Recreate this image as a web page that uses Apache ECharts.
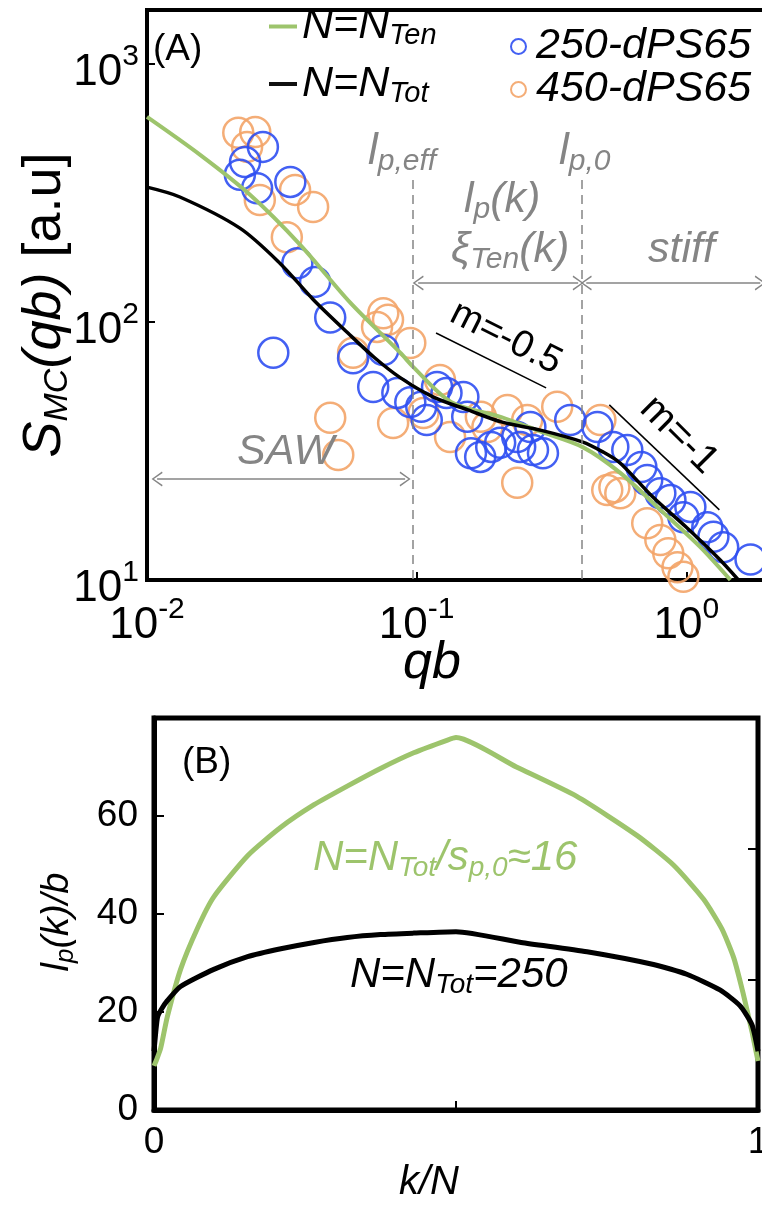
<!DOCTYPE html>
<html>
<head>
<meta charset="utf-8">
<script src="https://cdn.jsdelivr.net/npm/echarts@6/dist/echarts.min.js"></script>
<style>
html, body { margin: 0; padding: 0; background: #fff; }
#chart { width: 762px; height: 1226px; }
</style>
</head>
<body>
<div id="chart"></div>
<script>
// ---- panel A: S_MC(qb) ----
var qbBlue = [0.0269, 0.0231, 0.0221, 0.0256, 0.0340, 0.0361, 0.0420, 0.0478, 0.0294, 0.0581,
  0.0690, 0.0752, 0.0848, 0.0947, 0.104, 0.109, 0.119, 0.129, 0.149, 0.154, 0.159, 0.172, 0.189,
  0.204, 0.236, 0.242, 0.264, 0.270, 0.294, 0.371, 0.468, 0.536, 0.604, 0.681, 0.716, 0.801,
  0.873, 0.975, 1.035, 1.196, 1.26, 1.37, 1.73]
var sBlue = [477, 417, 372, 330, 349, 169, 143, 104, 75.9, 72.4,
  56, 77.8, 53.1, 48.9, 46.9, 41.7, 56, 53, 51.2, 42.9, 31, 30, 32.8,
  34, 35.8, 32.8, 39.2, 31.9, 31, 41.7, 39.2, 32.8, 31.9, 27.4, 24.4, 21.7,
  20.4, 17.5, 19.2, 16, 14.7, 13.4, 12]

var qbOrange = [0.0218, 0.0252, 0.0235, 0.0262, 0.0354, 0.0413, 0.0330, 0.0713, 0.0752, 0.0783,
  0.0947, 0.0581, 0.0478, 0.0512, 0.0818, 0.106, 0.122, 0.133, 0.173, 0.183, 0.217, 0.236,
  0.257, 0.332, 0.480, 0.509, 0.541, 0.569, 0.716, 0.801, 0.857, 0.927, 0.975]
var sOrange = [541, 545, 477, 297, 325, 279, 213, 95.7, 108, 102,
  82.9, 75.9, 42.5, 30.5, 40.6, 44.4, 59.6, 35.8, 42.9, 39.2, 45.6, 23.8,
  41.7, 46.9, 41.7, 22.3, 22.9, 21.7, 16.6, 14.3, 12.7, 11.2, 10.3]

var qbTen = [0.01, 0.01574, 0.0241, 0.0370, 0.0566, 0.0869, 0.097, 0.134, 0.206, 0.29, 0.411, 0.569, 0.801, 1.127, 1.456]
var sTen = [623, 444, 311, 199, 119, 76, 67, 49, 42.8, 37.5, 32.8, 26, 18.7, 13.4, 10]

var qbTot = [0.01, 0.01324, 0.0221, 0.0311, 0.0414, 0.0556, 0.0695, 0.0866, 0.116, 0.155, 0.206, 0.29, 0.411, 0.492, 0.568, 0.75, 1.0, 1.33, 1.56]
var sTot = [333, 305, 231, 169, 122, 90.6, 73, 61, 51, 45.6, 41, 38, 34.3, 31.3, 28.4, 21, 16, 12, 10]

// regime boundaries and guide lines (qb, S)
var lpEffQb = 0.097
var lp0Qb = 0.411
var slopeHalf = [[0.118, 90.6], [0.302, 55.5]]
var slopeOne = [[0.518, 47.7], [1.326, 18.7]]
var sawArrow = [[0.0109, 24.6], [0.0906, 24.6]]
var midArrow = [[0.1013, 141.6], [0.397, 141.6]]
var stiffArrow = [[0.4256, 141.6], [1.88, 141.6]]

// ---- panel B: l_p(k)/b ----
var kTen = [0, 0.005, 0.011, 0.022, 0.044, 0.072, 0.099, 0.155, 0.21, 0.265, 0.32, 0.375, 0.43, 0.486, 0.5,
  0.6, 0.7, 0.8, 0.86, 0.91, 0.94, 0.96, 0.975, 0.99, 1.0]
var lpTen = [9, 10.5, 12.6, 19, 28.7, 37.1, 43.5, 51.9, 57.7, 62.3, 66.1, 69.7, 72.9, 75.5, 76,
  70, 64, 56, 50, 43, 37, 31, 24, 16, 10]

var kTot = [0, 0.003, 0.006, 0.012, 0.022, 0.044, 0.099, 0.155, 0.21, 0.265, 0.32, 0.375, 0.43, 0.5,
  0.608, 0.717, 0.827, 0.882, 0.937, 0.97, 0.99, 1.0]
var lpTot = [12, 16, 19, 20.5, 22.3, 25.2, 28.7, 31.3, 32.9, 34.2, 35.2, 35.8, 36.1, 36.4,
  34.2, 32.3, 29.7, 27.7, 24.5, 21.3, 17.4, 12]

var F = "'Liberation Sans', Arial, Helvetica, sans-serif"
var GRAY = '#858585'
var GREEN = '#9dc46c'
var BLUE = '#2f4ff2'
var ORANGE = '#f3a468'
var ARROW = 'path://M0,10 L5,0 L10,10 L9,10.6 L5,2.2 L1,10.6 Z'

function pairs(xs, ys) {
  return xs.map(function (x, i) { return [x, ys[i]] })
}

function powLabel(v) {
  var e = Math.round(Math.log(v) / Math.LN10)
  return '{b|10}{e|' + e + '}'
}
var powRich = {
  b: { fontSize: 44, fontFamily: F, color: '#000', lineHeight: 62 },
  e: { fontSize: 30, fontFamily: F, color: '#000', lineHeight: 30, verticalAlign: 'top' }
}

function arrowLine(seg) {
  return [
    { coord: seg[0], symbol: ARROW, symbolSize: [15, 11] },
    { coord: seg[1], symbol: ARROW, symbolSize: [15, 11] }
  ]
}

function txt(x, y, text, rich, opts) {
  opts = opts || {}
  return {
    type: 'text',
    x: x,
    y: y,
    rotation: opts.rotation || 0,
    z: 100,
    style: {
      text: text,
      rich: rich,
      fontFamily: F,
      fontSize: opts.size || 40,
      fontStyle: opts.italic ? 'italic' : 'normal',
      fill: opts.color || '#000',
      align: opts.align || 'left',
      verticalAlign: 'middle',
      textAlign: opts.align || 'left',
      textVerticalAlign: 'middle'
    }
  }
}

function tokens(color, main, sub, italic) {
  var st = italic === false ? 'normal' : 'italic'
  return {
    m: { fontSize: main, lineHeight: main + 6, fontStyle: st, fontFamily: F, fill: color },
    n: { fontSize: main, lineHeight: main + 6, fontStyle: 'normal', fontFamily: F, fill: color },
    s: { fontSize: sub, lineHeight: sub, fontStyle: st, fontFamily: F, fill: color, verticalAlign: 'bottom' }
  }
}

var legendRich = {
  a: { fontSize: 43, fontStyle: 'italic', fontFamily: F, color: '#000', lineHeight: 48 },
  b: { fontSize: 29, fontStyle: 'italic', fontFamily: F, color: '#000', lineHeight: 29, verticalAlign: 'bottom' }
}

var chart = echarts.init(document.getElementById('chart'))

var option = {
  animation: false,
  backgroundColor: '#fff',
  textStyle: { fontFamily: F },
  grid: [
    { left: 147, top: 10, right: -194, bottom: 646, show: true, borderColor: '#000', borderWidth: 4,
      containLabel: false, outerBoundsMode: 'none' },
    { left: 154, top: 718, right: 4, bottom: 116, show: true, borderColor: '#000', borderWidth: 5,
      containLabel: false, outerBoundsMode: 'none' }
  ],
  legend: [
    {
      data: ['N=N_Ten', 'N=N_Tot'],
      left: 264, top: 0, orient: 'vertical',
      icon: 'rect', itemWidth: 28, itemHeight: 4, itemGap: 12,
      selectedMode: false,
      formatter: function (name) {
        return '{a|N=N}{b|' + name.split('_')[1] + '}'
      },
      textStyle: { rich: legendRich }
    },
    {
      data: ['250-dPS65', '450-dPS65'],
      left: 505, top: 20, orient: 'vertical',
      icon: 'circle', itemWidth: 15, itemHeight: 15, itemGap: 0,
      selectedMode: false,
      textStyle: { fontSize: 43, fontStyle: 'italic', fontFamily: F, color: '#000', lineHeight: 42, padding: [0, 0, 0, 5] }
    }
  ],
  xAxis: [
    {
      type: 'log', gridIndex: 0, min: 0.01, max: 10, logBase: 10,
      axisLine: { lineStyle: { color: '#000', width: 4 } },
      axisTick: { inside: true, length: 8, lineStyle: { color: '#000', width: 2 } },
      splitLine: { show: false },
      axisLabel: { margin: 15, formatter: powLabel, rich: powRich, showMaxLabel: false }
    },
    {
      type: 'value', gridIndex: 1, min: 0, max: 1, interval: 0.5,
      axisLine: { lineStyle: { color: '#000', width: 5 } },
      axisTick: { inside: true, length: 9, lineStyle: { color: '#000', width: 2 } },
      splitLine: { show: false },
      axisLabel: {
        margin: 14, fontSize: 37, color: '#000', fontFamily: F,
        formatter: function (v) { return (v === 0 || v === 1) ? String(v) : '' }
      }
    }
  ],
  yAxis: [
    {
      type: 'log', gridIndex: 0, min: 10, max: 1618, logBase: 10,
      axisLine: { lineStyle: { color: '#000', width: 4 } },
      axisTick: { inside: true, length: 8, lineStyle: { color: '#000', width: 2 } },
      splitLine: { show: false },
      axisLabel: { margin: 8, formatter: powLabel, rich: powRich, showMaxLabel: false, padding: [18, 0, 0, 0] }
    },
    {
      type: 'value', gridIndex: 1, min: 0, max: 80, interval: 20,
      axisLine: { lineStyle: { color: '#000', width: 5 } },
      axisTick: { inside: true, length: 10, lineStyle: { color: '#000', width: 2 } },
      splitLine: { show: false },
      axisLabel: { margin: 16, fontSize: 37, color: '#000', fontFamily: F, showMaxLabel: false }
    },
    {
      type: 'value', gridIndex: 1, position: 'right', min: 0, max: 3, interval: 1,
      axisLine: { show: false },
      axisTick: { inside: true, length: 10, lineStyle: { color: '#000', width: 2 } },
      splitLine: { show: false },
      axisLabel: { show: false }
    }
  ],
  series: [
    {
      name: '450-dPS65', type: 'scatter', xAxisIndex: 0, yAxisIndex: 0,
      data: pairs(qbOrange, sOrange), symbol: 'circle', symbolSize: 30, clip: false,
      itemStyle: { color: 'transparent', borderColor: ORANGE, borderWidth: 2.5, opacity: 0.9 }
    },
    {
      name: '250-dPS65', type: 'scatter', xAxisIndex: 0, yAxisIndex: 0,
      data: pairs(qbBlue, sBlue), symbol: 'circle', symbolSize: 30, clip: false,
      itemStyle: { color: 'transparent', borderColor: BLUE, borderWidth: 2.5, opacity: 0.9 }
    },
    {
      name: 'N=N_Ten', type: 'line', xAxisIndex: 0, yAxisIndex: 0,
      data: pairs(qbTen, sTen), showSymbol: false, symbol: 'none', smooth: 0.3,
      lineStyle: { color: GREEN, width: 4 }, itemStyle: { color: GREEN }
    },
    {
      name: 'N=N_Tot', type: 'line', xAxisIndex: 0, yAxisIndex: 0,
      data: pairs(qbTot, sTot), showSymbol: false, symbol: 'none', smooth: 0.3,
      lineStyle: { color: '#000', width: 3.5 }, itemStyle: { color: '#111' }
    },
    {
      name: 'guides', type: 'line', xAxisIndex: 0, yAxisIndex: 0, data: [],
      markLine: {
        silent: true, animation: false, symbol: ['none', 'none'],
        label: { show: false },
        lineStyle: { color: GRAY, width: 1.5, type: 'solid' },
        emphasis: { disabled: true },
        data: [
          [{ coord: [lpEffQb, 355], lineStyle: { type: [9, 6], width: 1.5, color: GRAY } }, { coord: [lpEffQb, 10] }],
          [{ coord: [lp0Qb, 355], lineStyle: { type: [9, 6], width: 1.5, color: GRAY } }, { coord: [lp0Qb, 10] }],
          arrowLine(sawArrow),
          arrowLine(midArrow),
          arrowLine(stiffArrow),
          [{ coord: slopeHalf[0], lineStyle: { color: '#000', width: 1.5 } }, { coord: slopeHalf[1] }],
          [{ coord: slopeOne[0], lineStyle: { color: '#000', width: 1.5 } }, { coord: slopeOne[1] }]
        ]
      }
    },
    {
      name: 'lpTen', type: 'line', xAxisIndex: 1, yAxisIndex: 1,
      data: pairs(kTen, lpTen), showSymbol: false, symbol: 'none', smooth: 0.2,
      lineStyle: { color: GREEN, width: 5 }
    },
    {
      name: 'lpTot', type: 'line', xAxisIndex: 1, yAxisIndex: 1,
      data: pairs(kTot, lpTot), showSymbol: false, symbol: 'none', smooth: 0.2,
      lineStyle: { color: '#000', width: 5 }
    }
  ],
  graphic: [
    txt(153, 50, '(A)', null, { size: 37 }),
    txt(368, 152, '{m|l}{s|p,eff}', tokens(GRAY, 44, 30), {}),
    txt(559, 152, '{m|l}{s|p,0}', tokens(GRAY, 44, 30), {}),
    txt(464, 200, '{m|l}{s|p}{m|(k)}', tokens(GRAY, 43, 30), {}),
    txt(451, 250, '{m|ξ}{s|Ten}{m|(k)}', tokens(GRAY, 43, 30), {}),
    txt(648, 250, 'stiff', null, { size: 43, italic: true, color: GRAY }),
    txt(237, 452, 'SAW', null, { size: 43, italic: true, color: GRAY }),
    txt(506, 338, 'm=-0.5', null, { size: 38, align: 'center', rotation: -0.47 }),
    txt(679, 435, 'm=-1', null, { size: 40, align: 'center', rotation: -0.785 }),
    txt(45, 305, '{m|S}{s|MC}{m|(qb)}{n| [a.u]}', tokens('#000', 54, 34), { align: 'center', rotation: Math.PI / 2 }),
    txt(432, 664, 'qb', null, { size: 52, italic: true, align: 'center' }),
    txt(182, 763, '(B)', null, { size: 37 }),
    txt(313, 858, '{m|N=N}{s|Tot}{m|/s}{s|p,0}{m|≈16}', tokens(GREEN, 42, 28), {}),
    txt(350, 975, '{m|N=N}{s|Tot}{m|=250}', tokens('#000', 42, 28), {}),
    txt(57, 922, '{m|l}{s|p}{m|(k)/b}', tokens('#000', 38, 26), { align: 'center', rotation: Math.PI / 2 }),
    txt(429, 1183, 'k/N', null, { size: 40, italic: true, align: 'center' })
  ]
}

chart.setOption(option)
</script>
</body>
</html>
